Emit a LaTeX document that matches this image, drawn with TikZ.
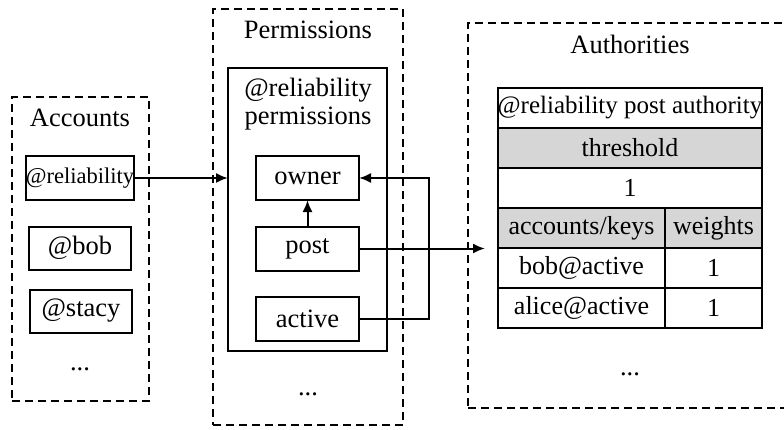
\documentclass[tikz,border=0pt]{standalone}
\usepackage{fontspec}
\setmainfont{Liberation Serif}
\usetikzlibrary{arrows.meta,positioning}

\begin{document}
\begin{tikzpicture}[
        x=1pt, y=-1pt,
        font=\fontsize{26.5}{28}\selectfont,
        group/.style={draw, line width=2pt, dash pattern=on 8pt off 5pt, inner sep=0pt},
        box/.style={draw, line width=2pt, inner sep=0pt, outer sep=0pt},
        perm/.style={box, minimum width=103pt, minimum height=44pt},
        acct/.style={box, minimum width=103pt, minimum height=44pt},
        cell/.style={box, minimum height=40pt, font=\fontsize{26}{28}\selectfont},
        head/.style={cell, fill=gray!32},
        link/.style={line width=2pt, -{Latex[length=12pt,width=10pt]}}
    ]
    \useasboundingbox (0,0) rectangle (784,429);

    % accounts
    \node[group, minimum width=137pt, minimum height=304pt] (accounts) at (80.5,249) {};
    \node (acctitle) at (80,118) {Accounts};
    \node[acct, minimum width=106pt, font=\fontsize{22.5}{24}\selectfont] (rel) at (80,178) {@reliability};
    \node[acct, minimum width=102pt, minimum height=43pt] (bob) at (80,248) {@bob};
    \node[acct, minimum width=102pt, minimum height=43pt] (stacy) at (81,311) {@stacy};
    \node (accdots) at (80,369) {...};

    % permissions
    \node[group, minimum width=190pt, minimum height=416pt] (permissions) at (308,217) {};
    \node (permtitle) at (308,30) {Permissions};
    \node[box, minimum width=159pt, minimum height=283pt] (relperm) at (307.5,209.5) {};
    \node[align=center] (relpermtitle) at (308,104) {@reliability\\permissions};
    \node[perm] (owner) at (307.5,178) {owner};
    \node[perm] (post) at (307.5,248.5) {post};
    \node[perm] (active) at (307.5,319) {active};
    \node (permdots) at (308,394) {...};

    % authorities
    \node[group, minimum width=322pt, minimum height=385pt] (authorities) at (629,215.5) {};
    \node (authtitle) at (630,44) {Authorities};
    \node[cell, minimum width=264pt, font=\fontsize{25}{27}\selectfont] (hdr) at (630,108) {@reliability post authority};
    \node[head, minimum width=264pt, below=0pt of hdr] (thr) {threshold};
    \node[cell, minimum width=264pt, below=0pt of thr] (thrval) {1};
    \node[head, minimum width=167pt, below right=0pt and 0pt of thrval.south west] (keys) {accounts/keys};
    \node[head, minimum width=97pt, right=0pt of keys] (weights) {weights};
    \node[cell, minimum width=167pt, below=0pt of keys] (bobkey) {bob@active};
    \node[cell, minimum width=97pt, below=0pt of weights] (bobw) {1};
    \node[cell, minimum width=167pt, below=0pt of bobkey] (alicekey) {alice@active};
    \node[cell, minimum width=97pt, below=0pt of bobw] (alicew) {1};
    \node (authdots) at (630,374) {...};
    \coordinate (authin) at (485,248.5);

    % links
    \draw[link] (rel.east) -- (rel.east -| relperm.west);
    \draw[link] (post.north) -- (owner.south);
    \draw[link] (post.east) -- (authin);
    \draw[link] (active.east) -- ++(70,0) |- (owner.east);
\end{tikzpicture}
\end{document}
